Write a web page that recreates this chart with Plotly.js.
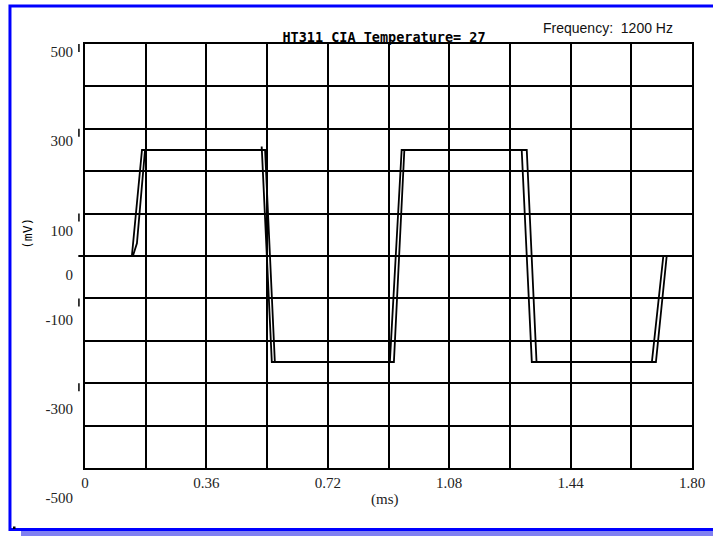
<!DOCTYPE html>
<html>
<head>
<meta charset="utf-8">
<script src="https://cdn.plot.ly/plotly-3.0.1.min.js"></script>
<style>html,body{margin:0;padding:0;background:#fff;}#chart{width:713px;height:536px;}</style>
</head>
<body>
<div id="chart"></div>
<script>
// ---- data ----
const timeA = [0, 0.139, 0.169, 0.524, 0.524, 0.554, 0.904, 0.939, 1.295, 1.325, 1.681, 1.715, 1.788];
const voltA = [0, 0, 250, 250, 258, -250, -250, 250, 250, -250, -250, 0, 0];
const timeB = [0, 0.142, 0.154, 0.178, 0.534, 0.563, 0.916, 0.947, 1.310, 1.339, 1.693, 1.725, 1.788];
const voltB = [0, 0, 30, 250, 250, -250, -250, 250, 250, -250, -250, 0, 0];

const xGridVals = [0, 0.18, 0.36, 0.54, 0.72, 0.90, 1.08, 1.26, 1.44, 1.62, 1.80];
const xTickText = ['0', '', '0.36', '', '0.72', '', '1.08', '', '1.44', '', '1.80'];
const yGridVals = [-500, -400, -300, -200, -100, 0, 100, 200, 300, 400, 500];
const yLabelVals = [500, 300, 100, 0, -100, -300, -500];
const yLabelText = ['500', '300', '100', '0', '-100', '-300', '-500'];
const yBarVals = [500, 300, 100, -100, -300, -500];

const titleText = 'HT311 CIA Temperature= 27';
const freqText = 'Frequency:  1200 Hz';
const xTitle = '(ms)';
const yTitle = '(mV)';

// ---- traces ----
const lineStyle = {color: '#000', width: 1.8};
const traces = [
  {x: timeA, y: voltA, type: 'scatter', mode: 'lines', line: lineStyle, xaxis: 'x', yaxis: 'y', showlegend: false, hoverinfo: 'skip'},
  {x: timeB, y: voltB, type: 'scatter', mode: 'lines', line: lineStyle, xaxis: 'x', yaxis: 'y', showlegend: false, hoverinfo: 'skip'},
  {x: [], y: [], type: 'scatter', mode: 'lines', xaxis: 'x2', yaxis: 'y2', showlegend: false, hoverinfo: 'skip'}
];

const serif = {family: '"Liberation Serif", "Times New Roman", serif', size: 15, color: '#222'};

const shapes = [];
// drop shadow and blue frame
shapes.push({type: 'rect', xref: 'paper', yref: 'paper', x0: -0.1054, x1: 1.06, y0: -0.068, y1: -0.09,
  fillcolor: '#8080f2', line: {width: 0}, layer: 'below'});
shapes.push({type: 'rect', xref: 'paper', yref: 'paper', x0: -0.1236, x1: 1.05, y0: -0.0647, y1: 1.0835,
  fillcolor: 'rgba(0,0,0,0)', line: {color: '#0000ff', width: 3}, layer: 'below'});
shapes.push({type: 'rect', xref: 'paper', yref: 'paper', x0: -0.1186, x1: -0.1145, y0: -0.0581, y1: -0.0636,
  fillcolor: '#000', line: {width: 0}});
// tick bars to the left of the axis
yBarVals.forEach(v => {
  shapes.push({type: 'line', xref: 'paper', yref: 'y', x0: -0.01, x1: -0.01,
    ysizemode: 'pixel', yanchor: v, y0: 0, y1: -8, line: {color: '#000', width: 1.5}});
});
// zero line extension
shapes.push({type: 'line', xref: 'paper', yref: 'y', x0: -0.011, x1: 0, y0: 0, y1: 0, line: {color: '#000', width: 2}});

const layout = {
  width: 713, height: 536,
  margin: {l: 85, r: 21, t: 44, b: 36},
  paper_bgcolor: '#fff',
  plot_bgcolor: 'rgba(0,0,0,0)',
  showlegend: false,
  title: {
    text: titleText, x: 0.5386, y: 0.931, xanchor: 'center', yanchor: 'middle', xref: 'container', yref: 'container',
    font: {family: '"DejaVu Sans Mono", monospace', size: 13.5, color: '#000', weight: 'bold'}
  },
  xaxis: {
    domain: [0, 1], anchor: 'y', range: [0, 1.8], tickmode: 'array', tickvals: xGridVals, ticktext: xTickText,
    showgrid: true, gridcolor: '#000', gridwidth: 2, zeroline: false,
    showline: true, mirror: true, linecolor: '#000', linewidth: 2, ticks: '',
    tickfont: serif, ticklabelstandoff: 0, fixedrange: true
  },
  yaxis: {
    domain: [0.070175, 1], anchor: 'x', range: [-500, 500], tickmode: 'array', tickvals: yGridVals,
    showticklabels: false, showgrid: true, gridcolor: '#000', gridwidth: 2,
    zeroline: true, zerolinecolor: '#000', zerolinewidth: 2,
    showline: true, mirror: true, linecolor: '#000', linewidth: 2, ticks: '', fixedrange: true
  },
  xaxis2: {domain: [0, 1], anchor: 'y2', range: [0, 1], visible: false, fixedrange: true},
  yaxis2: {
    domain: [0, 1], anchor: 'x2', range: [-504.5, 517.9], tickmode: 'array', tickvals: yLabelVals, ticktext: yLabelText,
    showgrid: false, zeroline: false, showline: false, ticks: '', tickfont: serif, ticklabelstandoff: 11, fixedrange: true
  },
  annotations: [
    {text: freqText, xref: 'paper', yref: 'paper', x: 0.8616, y: 1.036, xanchor: 'center', yanchor: 'middle', showarrow: false,
      font: {family: '"Liberation Sans", Arial, sans-serif', size: 14, color: '#111'}},
    {text: xTitle, xref: 'paper', yref: 'paper', x: 0.494, y: 0.002, xanchor: 'center', yanchor: 'middle', showarrow: false,
      font: serif},
    {text: yTitle, xref: 'paper', yref: 'paper', x: -0.0956, y: 0.5855, xanchor: 'center', yanchor: 'middle', showarrow: false,
      textangle: -90, font: {family: '"DejaVu Sans Mono", monospace', size: 13, color: '#000'}}
  ],
  shapes: shapes
};

Plotly.newPlot('chart', traces, layout, {staticPlot: true, displayModeBar: false});
</script>
</body>
</html>
